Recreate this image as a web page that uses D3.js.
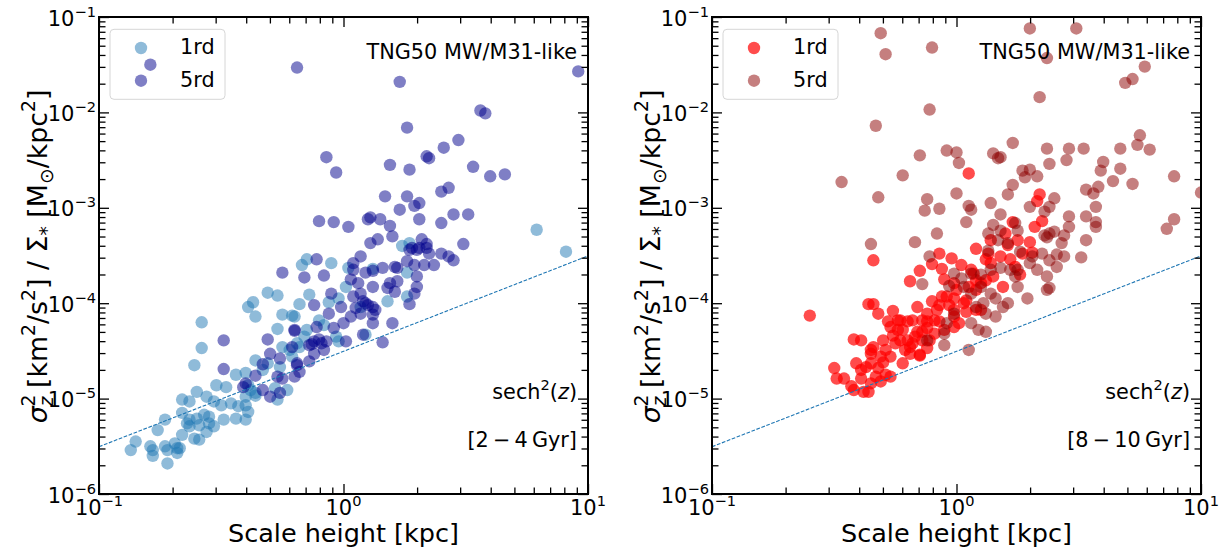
<!DOCTYPE html>
<html>
<head>
<meta charset="utf-8">
<script src="https://cdn.jsdelivr.net/npm/d3@7"></script>
<style>
  body { margin: 0; background: #fff; }
  svg { display: block; font-family: "DejaVu Sans", sans-serif; }
</style>
</head>
<body>
<svg id="chart" width="1226" height="549"></svg>
<script>
// each point: [log10 scale height (kpc), log10 sigma_z^2 / Sigma_*]
const young1rd = [
  [0.79,-3.23],[0.91,-3.46],[0.27,-3.37],[0.24,-3.40],[0.26,-3.68],[0.26,-3.93],[-0.15,-3.54],[-0.17,-3.60],
  [-0.05,-3.58],[0.02,-3.63],[0.12,-3.64],[0.01,-3.83],[-0.14,-3.91],[-0.18,-4.01],[-0.06,-3.99],[-0.02,-3.95],
  [0.18,-3.98],[0.07,-4.04],[-0.20,-4.14],[-0.10,-4.18],[-0.08,-4.23],[-0.03,-4.35],[-0.02,-4.40],[-0.15,-4.28],
  [-0.16,-4.35],[0.09,-4.33],[-0.18,-4.46],[-0.31,-3.89],[-0.27,-3.92],[-0.37,-3.99],[-0.39,-4.04],[-0.36,-4.14],
  [-0.25,-4.12],[-0.21,-4.13],[-0.58,-4.20],[-0.27,-4.27],[-0.58,-4.47],[-0.61,-4.65],[-0.44,-4.75],[-0.40,-4.73],
  [-0.48,-4.88],[-0.52,-4.86],[-0.36,-4.94],[-0.40,-4.98],[-0.27,-5.01],[-0.60,-4.93],[-0.56,-4.98],[-0.66,-5.01],
  [-0.63,-5.03],[-0.53,-5.03],[-0.50,-5.07],[-0.46,-5.05],[-0.43,-5.08],[-0.40,-5.07],[-0.39,-5.14],[-0.44,-5.21],
  [-0.40,-5.22],[-0.49,-5.22],[-0.55,-5.19],[-0.57,-5.17],[-0.60,-5.21],[-0.63,-5.22],[-0.66,-5.15],[-0.73,-5.22],
  [-0.63,-5.29],[-0.59,-5.28],[-0.55,-5.26],[-0.53,-5.29],[-0.66,-5.38],[-0.61,-5.42],[-0.59,-5.43],[-0.56,-5.35],
  [-0.76,-5.33],[-0.64,-5.26],[-0.85,-5.45],[-0.87,-5.54],[-0.79,-5.50],[-0.78,-5.54],[-0.78,-5.60],[-0.73,-5.50],
  [-0.69,-5.47],[-0.72,-5.54],[-0.68,-5.52],[-0.68,-5.57],[-0.67,-5.52],[-0.72,-5.68],[-0.22,-4.49],[-0.25,-4.46],
  [-0.19,-4.42],[-0.31,-4.63],[-0.36,-4.60],[-0.33,-4.70],[-0.28,-4.89],[-0.23,-4.91],[-0.38,-4.91],[-0.26,-4.67],
  [-0.21,-4.56],[-0.36,-4.97],[-0.39,-4.86]
];
const young5rd = [
  [-0.79,-1.50],[-0.19,-1.53],[0.23,-1.68],[0.96,-1.57],[0.56,-1.98],[0.58,-2.01],[0.26,-2.16],[0.47,-2.29],
  [0.41,-2.37],[0.34,-2.46],[0.35,-2.48],[-0.07,-2.47],[-0.03,-2.63],[0.19,-2.55],[0.27,-2.60],[0.53,-2.57],
  [0.60,-2.67],[0.66,-2.65],[0.17,-2.88],[0.26,-2.88],[0.40,-2.83],[0.43,-2.79],[0.31,-2.95],[0.29,-2.98],
  [0.23,-3.02],[0.45,-3.07],[0.51,-3.07],[0.31,-3.12],[0.40,-3.16],[-0.10,-3.14],[-0.04,-3.15],[0.02,-3.20],
  [0.11,-3.10],[0.10,-3.12],[0.15,-3.12],[0.19,-3.19],[0.20,-3.30],[0.14,-3.33],[0.11,-3.37],[0.32,-3.33],
  [0.49,-3.38],[0.34,-3.38],[0.27,-3.44],[0.28,-3.42],[0.30,-3.44],[0.31,-3.42],[0.34,-3.42],[0.35,-3.48],
  [0.40,-3.48],[0.43,-3.51],[0.45,-3.55],[0.26,-3.56],[0.29,-3.60],[0.33,-3.60],[0.37,-3.60],[-0.11,-3.54],
  [0.07,-3.51],[0.04,-3.58],[0.21,-3.62],[0.22,-3.63],[0.16,-3.63],[0.12,-3.66],[0.09,-3.68],[0.04,-3.65],
  [-0.08,-3.71],[-0.16,-3.73],[0.30,-3.72],[0.19,-3.79],[0.22,-3.77],[0.06,-3.79],[0.03,-3.75],[0.12,-3.83],
  [0.18,-3.84],[0.21,-3.88],[0.30,-3.83],[0.29,-3.90],[-0.05,-3.90],[0.04,-3.93],[0.07,-3.90],[0.27,-4.01],
  [0.09,-4.00],[0.08,-3.98],[0.12,-4.04],[0.10,-4.02],[0.13,-4.07],[0.05,-4.05],[0.03,-4.14],[0.07,-4.11],
  [0.12,-4.12],[0.12,-4.21],[0.20,-4.21],[-0.01,-4.04],[-0.06,-4.11],[-0.12,-4.02],[0.00,-4.21],[-0.04,-4.26],
  [-0.11,-4.25],[-0.20,-4.28],[0.08,-4.33],[0.16,-4.41],[0.01,-4.40],[-0.07,-4.40],[-0.10,-4.38],[-0.09,-4.42],
  [-0.12,-4.40],[-0.13,-4.43],[-0.14,-4.44],[-0.12,-4.53],[-0.08,-4.49],[-0.14,-4.61],[-0.19,-4.63],[-0.18,-4.72],
  [-0.20,-4.77],[-0.25,-3.68],[-0.49,-4.39],[-0.31,-4.38],[-0.20,-4.29],[-0.49,-4.69],[-0.30,-4.53],[-0.26,-4.58],
  [-0.21,-4.46],[-0.33,-4.64],[-0.19,-4.65],[-0.27,-4.77],[-0.25,-4.79],[-0.36,-4.76],[-0.40,-4.84],[-0.41,-4.88],
  [-0.33,-4.91],[-0.30,-4.98],[-0.26,-4.94]
];
const old1rd = [
  [0.05,-2.64],[-0.34,-3.55],[0.34,-2.86],[0.33,-2.93],[0.35,-3.14],[0.32,-3.20],[0.30,-3.36],[0.23,-3.15],
  [0.14,-3.34],[0.21,-3.39],[0.25,-3.34],[0.27,-3.48],[0.31,-3.47],[0.08,-3.43],[0.12,-3.54],[0.18,-3.51],
  [0.22,-3.54],[0.24,-3.62],[0.26,-3.70],[0.02,-3.60],[0.07,-3.69],[0.14,-3.58],[0.10,-3.79],[0.05,-3.83],
  [0.15,-3.72],[0.19,-3.83],[0.10,-4.07],[0.04,-4.09],[0.01,-4.21],[0.13,-3.48],[0.06,-3.65],[-0.02,-3.53],
  [-0.07,-3.48],[-0.10,-3.59],[-0.06,-3.64],[-0.15,-3.66],[-0.19,-3.77],[-0.05,-3.75],[-0.01,-3.79],[0.08,-3.76],
  [-0.06,-3.93],[-0.07,-4.02],[-0.01,-3.95],[0.03,-4.00],[0.08,-4.07],[-0.16,-4.04],[-0.14,-4.18],[-0.09,-4.18],
  [-0.12,-4.26],[-0.18,-4.18],[-0.01,-4.14],[-0.23,-4.18],[-0.20,-4.39],[-0.19,-4.46],[-0.15,-4.54],[-0.09,-4.32],
  [-0.60,-4.13],[-0.34,-4.01],[-0.32,-4.11],[-0.36,-4.01],[-0.26,-4.08],[-0.28,-4.19],[-0.24,-4.18],[-0.27,-4.25],
  [-0.20,-4.19],[-0.24,-4.28],[-0.42,-4.38],[-0.39,-4.39],[-0.35,-4.49],[-0.30,-4.39],[-0.29,-4.49],[-0.31,-4.56],
  [-0.27,-4.56],[-0.23,-4.39],[-0.18,-4.42],[-0.21,-4.49],[-0.19,-4.53],[-0.15,-4.55],[-0.16,-4.30],[-0.14,-4.30],
  [-0.12,-4.19],[-0.12,-4.11],[-0.08,-4.07],[-0.11,-4.39],[-0.14,-4.39],[-0.50,-4.68],[-0.49,-4.79],[-0.41,-4.63],
  [-0.39,-4.70],[-0.46,-4.79],[-0.43,-4.87],[-0.42,-4.91],[-0.35,-4.53],[-0.35,-4.63],[-0.32,-4.68],[-0.35,-4.84],
  [-0.38,-4.93],[-0.36,-4.93],[-0.31,-4.82],[-0.29,-4.75],[-0.22,-4.63],[-0.39,-4.79],[-0.33,-4.77],[-0.01,-4.25],
  [-0.05,-4.28],[-0.07,-4.19],[-0.37,-4.67],[-0.34,-4.46],[-0.27,-4.77],[-0.04,-3.93],[-0.01,-4.07],[0.00,-3.86],
  [0.04,-3.97],[0.08,-3.86],[0.12,-3.76],[0.20,-3.27],[-0.26,-4.34],[-0.22,-4.28],[-0.17,-4.35],[-0.12,-4.47],
  [-0.03,-4.02],[-0.10,-3.98],[-0.25,-4.42],[-0.30,-4.62]
];
const old5rd = [
  [-0.31,-1.17],[-0.29,-1.39],[-0.10,-1.32],[-0.11,-1.97],[-0.33,-2.14],[-0.15,-2.45],[-0.04,-2.40],[0.00,-2.42],
  [0.01,-2.53],[0.15,-2.43],[0.18,-2.47],[0.17,-2.48],[0.23,-2.32],[-0.22,-2.66],[-0.47,-2.73],[-0.32,-2.89],
  [-0.12,-2.91],[-0.13,-3.03],[-0.07,-3.01],[0.00,-2.85],[0.05,-2.98],[0.06,-3.02],[0.14,-2.95],[0.23,-2.76],
  [0.21,-2.86],[0.18,-3.07],[0.04,-3.15],[-0.08,-3.27],[-0.17,-3.36],[-0.35,-3.38],[0.15,-3.18],[0.18,-3.24],
  [0.13,-3.27],[0.24,-3.16],[0.25,-3.24],[0.17,-3.34],[0.13,-3.45],[0.21,-3.37],[0.26,-3.46],[0.30,-2.99],
  [0.36,-3.04],[0.38,-2.99],[0.40,-2.90],[0.38,-3.27],[0.40,-3.25],[0.35,-3.48],[0.38,-3.55],[0.41,-3.49],
  [0.33,-3.65],[0.37,-3.72],[0.38,-3.84],[0.37,-3.86],[0.29,-3.95],[0.25,-3.83],[0.21,-4.00],[0.24,-3.72],
  [-0.11,-3.51],[-0.14,-3.80],[-0.01,-3.69],[0.02,-3.74],[0.06,-3.69],[0.10,-3.70],[0.14,-3.65],[0.18,-3.63],
  [0.22,-3.65],[-0.03,-3.82],[0.03,-3.83],[0.06,-3.90],[0.10,-3.83],[0.14,-3.90],[0.16,-3.95],[0.11,-4.00],
  [0.08,-4.04],[0.19,-4.04],[0.16,-4.14],[0.12,-4.11],[0.06,-4.21],[0.09,-4.28],[0.12,-4.30],[-0.01,-4.11],
  [-0.04,-4.21],[-0.05,-4.32],[-0.05,-4.44],[-0.12,-4.39],[0.05,-4.49],[0.75,-2.24],[0.74,-2.34],[0.79,-2.39],
  [0.67,-2.38],[0.52,-2.38],[0.46,-2.38],[0.45,-2.50],[0.38,-2.54],[0.37,-2.38],[0.27,-2.61],[0.30,-2.60],
  [0.28,-2.68],[0.33,-2.67],[0.60,-2.52],[0.59,-2.61],[0.67,-2.59],[0.64,-2.72],[0.72,-2.75],[0.58,-2.78],
  [0.53,-2.81],[0.56,-2.85],[0.57,-2.99],[0.53,-3.09],[0.46,-3.09],[0.46,-3.20],[0.57,-3.15],[0.57,-3.20],
  [0.44,-3.29],[0.43,-3.37],[0.53,-3.34],[0.36,-3.29],[0.37,-3.31],[0.31,-3.51],[0.44,-3.51],[0.51,-3.52],
  [0.30,-3.58],[0.41,-3.62],[0.25,-3.65],[0.30,-1.12],[0.49,-1.12],[0.37,-1.43],[0.77,-1.52],[0.69,-1.69],
  [0.72,-1.65],[0.34,-1.84],[0.89,-2.67],[1.00,-2.84],[0.89,-3.12],[0.86,-3.22]
];

const xTicks = [0.1, 1, 10];
const yTicks = [1e-6, 1e-5, 1e-4, 1e-3, 1e-2, 1e-1];
const seriesNames = ["1rd", "5rd"];
const ageBins = ["[2\u2009\u2212\u20094\u2009Gyr]", "[8\u2009\u2212\u200910\u2009Gyr]"];
// sech^2 reference relation, sigma^2/Sigma proportional to h
const refLine = [[0.1, 3.13e-6], [10, 3.13e-4]];

class ScatterPanel {
  constructor(option) {
    let o = {
      svg : null,
      id : "p",
      left : 0,
      top : 17,
      width : 489,
      height : 477,
      series : [],
      colors : [],
      opacity : [],
      radius : 6.2,
      age : ""
    };
    Object.assign(o, option);
    Object.assign(this, o);
    this.init();
  }

  init() {
    this.group = this.svg.append("g")
      .attr("transform", `translate(${this.left},${this.top})`);
    this.x = d3.scaleLog().domain([0.1, 10]).range([0, this.width]);
    this.y = d3.scaleLog().domain([1e-6, 1e-1]).range([this.height, 0]);
    this.group.append("clipPath").attr("id", `clip-${this.id}`)
      .append("rect").attr("width", this.width).attr("height", this.height);
    this.addLegend();
    this.addPoints();
    this.addRefLine();
    this.addAxes();
    this.addTexts();
  }

  static minorTicks(lo, hi) {
    let out = [];
    for (let d = lo; d < hi; d *= 10) {
      for (let k = 2; k < 10; k++) out.push(k * d);
    }
    return out;
  }

  static powLabel(sel, v) {
    const e = Math.round(Math.log10(v));
    sel.append("tspan").text("10");
    sel.append("tspan").attr("dy", -9).attr("font-size", 14.6)
      .text(e < 0 ? "\u2212" + (-e) : String(e));
  }

  addLegend() {
    let lg = this.group.append("g").attr("transform", "translate(11,12.3)");
    lg.append("rect")
      .attr("width", 115).attr("height", 70).attr("rx", 4)
      .attr("fill", "#fff").attr("stroke", "#d6d6d6").attr("stroke-width", 1);
    seriesNames.forEach((name, i) => {
      lg.append("circle")
        .attr("cx", 31).attr("cy", 18.7 + i * 32.7).attr("r", this.radius)
        .attr("fill", this.colors[ i ]).attr("fill-opacity", this.opacity[ i ]);
      lg.append("text")
        .attr("x", 70).attr("y", 25 + i * 32.4)
        .attr("font-size", 20.8).attr("fill", "#000")
        .text(name);
    });
  }

  addPoints() {
    let pg = this.group.append("g").attr("clip-path", `url(#clip-${this.id})`);
    this.series.forEach((s, i) => {
      pg.append("g").selectAll("circle")
        .data(s.map(([ lh, ls ]) => [ 10 ** lh, 10 ** ls ]))
        .enter()
        .append("circle")
        .attr("cx", d => this.x(d[ 0 ]))
        .attr("cy", d => this.y(d[ 1 ]))
        .attr("r", this.radius)
        .attr("fill", this.colors[ i ])
        .attr("fill-opacity", this.opacity[ i ]);
    });
  }

  addRefLine() {
    this.group.append("path")
      .datum(refLine)
      .attr("d", d3.line().x(d => this.x(d[ 0 ])).y(d => this.y(d[ 1 ])))
      .attr("fill", "none")
      .attr("stroke", "#1f77b4")
      .attr("stroke-width", 1.1)
      .attr("stroke-dasharray", "3.7,1.6");
  }

  addAxes() {
    const w = this.width, h = this.height;
    const xMinor = this.constructor.minorTicks(0.1, 10);
    const yMinor = this.constructor.minorTicks(1e-6, 1e-1);
    const defs = [
      [ d3.axisBottom, this.x, `translate(0,${h})` ],
      [ d3.axisTop, this.x, "translate(0,0)" ],
      [ d3.axisLeft, this.y, "translate(0,0)" ],
      [ d3.axisRight, this.y, `translate(${w},0)` ]
    ];
    defs.forEach(([ axisFn, scale, tr ]) => {
      const isX = scale === this.x;
      [ [ isX ? xTicks : yTicks, 10 ], [ isX ? xMinor : yMinor, 6.5 ] ].forEach(([ vals, len ]) => {
        let g = this.group.append("g").attr("transform", tr)
          .call(axisFn(scale).tickValues(vals).tickSize(-len).tickSizeOuter(0).tickFormat(""));
        g.select(".domain").remove();
        g.selectAll("line").attr("stroke", "#000").attr("stroke-width", 1.3);
      });
    });

    // frame
    this.group.append("rect")
      .attr("width", w).attr("height", h)
      .attr("fill", "none").attr("stroke", "#000").attr("stroke-width", 2);

    // tick labels with superscript exponents
    xTicks.forEach(v => {
      let t = this.group.append("text")
        .attr("x", this.x(v)).attr("y", h + 21)
        .attr("text-anchor", "middle").attr("font-size", 21);
      this.constructor.powLabel(t, v);
    });
    yTicks.forEach(v => {
      let t = this.group.append("text")
        .attr("x", -3).attr("y", this.y(v) + 8.6)
        .attr("text-anchor", "end").attr("font-size", 21);
      this.constructor.powLabel(t, v);
    });

    this.group.append("text")
      .attr("x", w / 2).attr("y", h + 47.7)
      .attr("text-anchor", "middle").attr("font-size", 25.5)
      .text("Scale height [kpc]");

    let lab = this.group.append("text")
      .attr("transform", `translate(-52,${h / 2 + 1}) rotate(-90)`)
      .attr("text-anchor", "middle").attr("font-size", 26.8);
    const sup = (txt, dy) => lab.append("tspan").attr("font-size", 18.8).attr("dy", dy).text(txt);
    const main = (txt, dy) => lab.append("tspan").attr("dy", dy).text(txt);
    lab.append("tspan").attr("font-style", "italic").text("\u03c3");
    sup("2", -12);
    lab.append("tspan").attr("font-size", 18.8).attr("font-style", "italic")
      .attr("dx", -12).attr("dy", 18).text("z");
    main(" [km", -6);
    sup("2", -12);
    main("/s", 12);
    sup("2", -12);
    main("] / \u03a3", 12);
    sup("*", 6);
    main(" [M", -6);
    sup("\u2299", 6);
    main("/kpc", -6);
    sup("2", -12);
    main("]", 12);
  }

  addTexts() {
    const w = this.width;
    this.group.append("text")
      .attr("x", w - 11).attr("y", 42.3)
      .attr("text-anchor", "end").attr("font-size", 20.8)
      .text("TNG50 MW/M31-like");

    let s = this.group.append("text")
      .attr("x", w - 11).attr("y", 382.3)
      .attr("text-anchor", "end").attr("font-size", 20.8);
    s.append("tspan").text("sech");
    s.append("tspan").attr("font-size", 14.6).attr("dy", -9).text("2");
    s.append("tspan").attr("dy", 9).text("(");
    s.append("tspan").attr("font-style", "italic").text("z");
    s.append("tspan").text(")");

    this.group.append("text")
      .attr("x", w - 11).attr("y", 430)
      .attr("text-anchor", "end").attr("font-size", 20.8)
      .text(this.age);
  }
}

const svg = d3.select("#chart");

new ScatterPanel({
  svg : svg,
  id : "young",
  left : 99,
  series : [ young1rd, young5rd ],
  colors : [ "#1f77b4", "#00008b" ],
  opacity : [ 0.5, 0.5 ],
  age : ageBins[ 0 ]
});

new ScatterPanel({
  svg : svg,
  id : "old",
  left : 712,
  series : [ old1rd, old5rd ],
  colors : [ "#ff0000", "#8b0000" ],
  opacity : [ 0.7, 0.5 ],
  age : ageBins[ 1 ]
});
</script>
</body>
</html>
